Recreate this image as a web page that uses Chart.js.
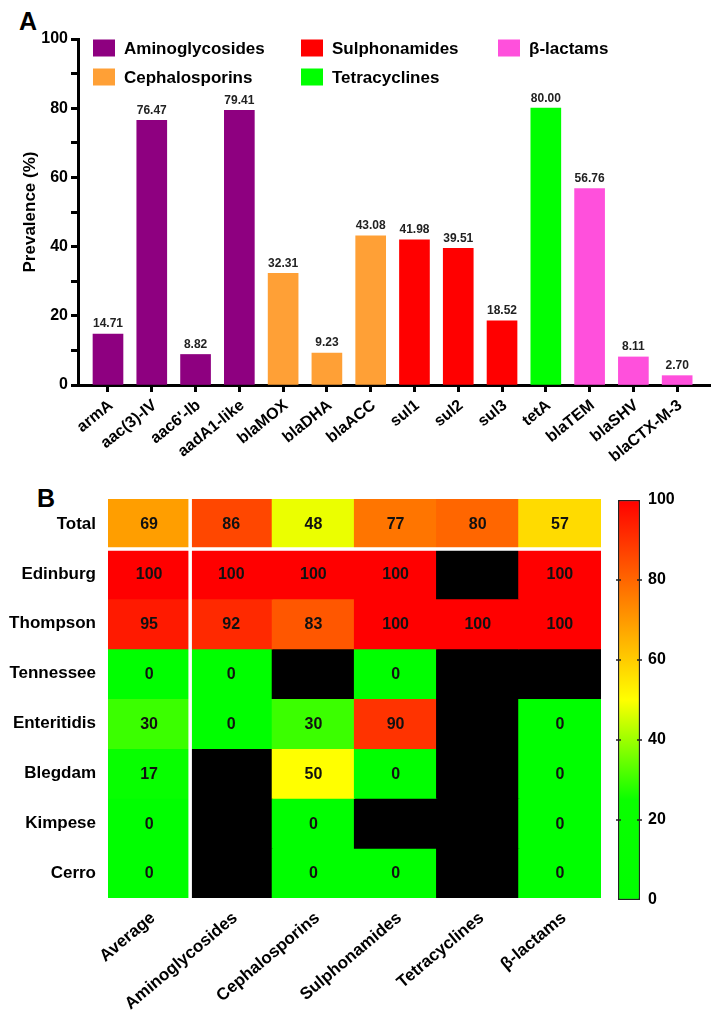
<!DOCTYPE html>
<html>
<head>
<meta charset="utf-8">
<script src="https://cdn.jsdelivr.net/npm/chart.js@4.4.1/dist/chart.umd.min.js"></script>
<style>
  body { margin:0; background:#fff; width:722px; height:1011px; position:relative; overflow:hidden; font-family:'Liberation Sans', Arial, sans-serif; }
  canvas { position:absolute; }
  .panel { position:absolute; font-weight:bold; font-size:25px; color:#000; line-height:1; }
</style>
</head>
<body>
<div class="panel" style="left:19px;top:9px">A</div>
<div class="panel" style="left:37px;top:486px">B</div>
<canvas id="cA" width="722" height="480" style="left:0;top:0;width:722px;height:480px"></canvas>
<canvas id="cB" width="612" height="531" style="left:0;top:480px;width:612px;height:531px"></canvas>
<canvas id="cC" width="122" height="440" style="left:600px;top:480px;width:122px;height:440px"></canvas>
<script>
// ---------- Panel A data ----------
const genes = ['armA', 'aac(3)-IV', "aac6'-lb", 'aadA1-like', 'blaMOX', 'blaDHA', 'blaACC', 'sul1', 'sul2', 'sul3', 'tetA', 'blaTEM', 'blaSHV', 'blaCTX-M-3'];
const prevalence = [14.71, 76.47, 8.82, 79.41, 32.31, 9.23, 43.08, 41.98, 39.51, 18.52, 80.00, 56.76, 8.11, 2.70];
const geneClass = [0, 0, 0, 0, 1, 1, 1, 2, 2, 2, 3, 4, 4, 4];
const classes = ['Aminoglycosides', 'Cephalosporins', 'Sulphonamides', 'Tetracyclines', 'β-lactams'];
const classColors = ['#8E0080', '#FFA036', '#FF0000', '#00FF00', '#FF50DC'];
const yTicksA = [0, 20, 40, 60, 80, 100];

// ---------- Panel B data ----------
const rows = ['Total', 'Edinburg', 'Thompson', 'Tennessee', 'Enteritidis', 'Blegdam', 'Kimpese', 'Cerro'];
const cols = ['Average', 'Aminoglycosides', 'Cephalosporins', 'Sulphonamides', 'Tetracyclines', 'β-lactams'];
const rowTotal       = [69, 86, 48, 77, 80, 57];
const rowEdinburg    = [100, 100, 100, 100, null, 100];
const rowThompson    = [95, 92, 83, 100, 100, 100];
const rowTennessee   = [0, 0, null, 0, null, null];
const rowEnteritidis = [30, 0, 30, 90, null, 0];
const rowBlegdam     = [17, null, 50, 0, null, 0];
const rowKimpese     = [0, null, 0, null, null, 0];
const rowCerro       = [0, null, 0, 0, null, 0];
const heatRows = [rowTotal, rowEdinburg, rowThompson, rowTennessee, rowEnteritidis, rowBlegdam, rowKimpese, rowCerro];
const colorbarTicks = [0, 20, 40, 60, 80, 100];
const colorStops = [[0, [0, 255, 0]], [25, [10, 255, 0]], [50, [255, 255, 0]], [100, [255, 0, 0]]];

function heatColor(v) {
  for (let i = 1; i < colorStops.length; i++) {
    const [v1, c1] = colorStops[i];
    const [v0, c0] = colorStops[i - 1];
    if (v <= v1) {
      const t = (v - v0) / (v1 - v0);
      const c = c0.map((x, k) => Math.round(x + (c1[k] - x) * t));
      return `rgb(${c[0]},${c[1]},${c[2]})`;
    }
  }
  const c = colorStops[colorStops.length - 1][1];
  return `rgb(${c[0]},${c[1]},${c[2]})`;
}

Chart.defaults.font.family = "'Liberation Sans', Arial, sans-serif";
Chart.defaults.color = '#000';
const FONT = "'Liberation Sans', Arial, sans-serif";

// ---------- Panel A ----------
const valueLabels = {
  id: 'valueLabels',
  afterDatasetsDraw(chart) {
    const ctx = chart.ctx;
    ctx.save();
    ctx.font = `bold 12px ${FONT}`;
    ctx.fillStyle = '#222';
    ctx.textAlign = 'center';
    ctx.textBaseline = 'bottom';
    chart.data.datasets.forEach((ds, i) => {
      chart.getDatasetMeta(i).data.forEach((el, j) => {
        ctx.fillText(ds.data[j].y.toFixed(2), el.x, el.y - 4);
      });
    });
    ctx.restore();
  }
};
const customLegend = {
  id: 'customLegend',
  afterDraw(chart) {
    const ctx = chart.ctx;
    const a = chart.chartArea;
    const colOff = [15, 223, 420];
    const rowOff = [9, 38];
    ctx.save();
    ctx.font = `bold 17px ${FONT}`;
    ctx.textAlign = 'left';
    ctx.textBaseline = 'middle';
    chart.data.datasets.forEach((ds, i) => {
      const x = a.left + colOff[Math.floor(i / 2)];
      const y = a.top + rowOff[i % 2];
      ctx.fillStyle = ds.backgroundColor;
      ctx.fillRect(x, y - 8.5, 22, 17);
      ctx.fillStyle = '#000';
      ctx.fillText(ds.label, x + 31, y + 1);
    });
    ctx.restore();
  }
};

new Chart(document.getElementById('cA'), {
  type: 'bar',
  data: {
    datasets: classes.map((c, k) => ({
      label: c,
      data: genes.map((g, i) => ({ x: i, y: prevalence[i], k: geneClass[i] })).filter(d => d.k === k),
      backgroundColor: classColors[k],
      barThickness: 30,
      grouped: false,
      borderWidth: 0
    }))
  },
  options: {
    responsive: false,
    devicePixelRatio: 1,
    animation: false,
    layout: { padding: { top: 39, right: 12, left: 0, bottom: 0 } },
    plugins: { legend: { display: false }, tooltip: { enabled: false } },
    scales: {
      x: {
        type: 'linear', min: -0.685, max: 13.75, offset: false,
        afterBuildTicks: s => { s.ticks = genes.map((g, i) => ({ value: i })); },
        ticks: { autoSkip: false, minRotation: 39, maxRotation: 39, padding: 4, labelOffset: 3,
          font: { size: 16, weight: 'bold' }, color: '#000', callback: v => genes[v] },
        grid: { offset: false, drawOnChartArea: false, drawTicks: true, tickLength: 7, tickWidth: 3, tickColor: '#000' },
        border: { color: '#000', width: 3 },
        afterFit: s => { s.height = 95; }
      },
      y: {
        min: 0, max: 100,
        ticks: { stepSize: 10, padding: 3, font: { size: 16, weight: 'bold' }, color: '#000',
          callback: v => yTicksA.includes(v) ? v : '' },
        grid: { drawOnChartArea: false, tickLength: 7, tickWidth: 3, tickColor: '#000' },
        border: { color: '#000', width: 3 },
        title: { display: true, text: 'Prevalence (%)', font: { size: 17, weight: 'bold' }, color: '#000', padding: { top: 20, bottom: 0 } },
        afterFit: s => { s.width = 78; }
      }
    }
  },
  plugins: [valueLabels, customLegend]
});

// ---------- Panel B heatmap ----------
const cellLabels = {
  id: 'cellLabels',
  afterDatasetsDraw(chart) {
    const ctx = chart.ctx;
    const a = chart.chartArea;
    const xs = chart.scales.x, ys = chart.scales.y;
    ctx.save();
    ctx.strokeStyle = '#fff';
    ctx.lineWidth = 3.5;
    const xSep = (xs.getPixelForValue(0) + xs.getPixelForValue(1)) / 2;
    const ySep = ys.getPixelForValue(0.5);
    ctx.beginPath();
    ctx.moveTo(xSep, a.top); ctx.lineTo(xSep, a.bottom);
    ctx.moveTo(a.left, ySep); ctx.lineTo(a.right, ySep);
    ctx.stroke();
    ctx.font = `bold 16px ${FONT}`;
    ctx.fillStyle = '#111';
    ctx.textAlign = 'center';
    ctx.textBaseline = 'middle';
    heatRows.forEach((vals, ri) => {
      chart.getDatasetMeta(ri).data.forEach((el, ci) => {
        if (vals[ci] !== null) ctx.fillText(String(vals[ci]), el.x, (el.y + el.base) / 2 + 1);
      });
    });
    ctx.restore();
  }
};

new Chart(document.getElementById('cB'), {
  type: 'bar',
  data: {
    labels: cols,
    datasets: heatRows.map((vals, ri) => ({
      label: rows[ri],
      data: vals.map(() => [ri - 0.5, ri + 0.5]),
      backgroundColor: vals.map(v => v === null ? '#000' : heatColor(v)),
      barPercentage: 1, categoryPercentage: 1, grouped: false, borderWidth: 0, inflateAmount: 0.6
    }))
  },
  options: {
    responsive: false,
    devicePixelRatio: 1,
    animation: false,
    layout: { padding: { top: 19, right: 11, left: 0, bottom: 0 } },
    plugins: { legend: { display: false }, tooltip: { enabled: false } },
    scales: {
      x: {
        type: 'category', offset: true,
        grid: { display: false }, border: { display: false },
        ticks: { autoSkip: false, minRotation: 40, maxRotation: 40, padding: 2, labelOffset: 4,
          font: { size: 17, weight: 'bold' }, color: '#000' },
        afterFit: s => { s.height = 113; }
      },
      y: {
        type: 'linear', reverse: true, min: -0.5, max: 7.5,
        afterBuildTicks: s => { s.ticks = rows.map((r, i) => ({ value: i })); },
        ticks: { autoSkip: false, padding: 4, font: { size: 17, weight: 'bold' }, color: '#000', callback: v => rows[v] },
        grid: { display: false }, border: { display: false },
        afterFit: s => { s.width = 108; }
      }
    }
  },
  plugins: [cellLabels]
});

// ---------- Colorbar ----------
const cbTicks = {
  id: 'cbTicks',
  afterDatasetsDraw(chart) {
    const ctx = chart.ctx;
    const a = chart.chartArea;
    const ys = chart.scales.y;
    ctx.save();
    ctx.strokeStyle = '#222';
    ctx.lineWidth = 1.5;
    ctx.beginPath();
    colorbarTicks.slice(1, -1).forEach(v => {
      const y = ys.getPixelForValue(v);
      ctx.moveTo(a.left - 2, y); ctx.lineTo(a.left + 3, y);
      ctx.moveTo(a.right - 3, y); ctx.lineTo(a.right + 2, y);
    });
    ctx.stroke();
    ctx.restore();
  }
};

new Chart(document.getElementById('cC'), {
  type: 'bar',
  data: {
    labels: [''],
    datasets: [{
      data: [[colorbarTicks[0], colorbarTicks[colorbarTicks.length - 1]]],
      backgroundColor: (context) => {
        const { ctx, chartArea, scales } = context.chart;
        if (!chartArea) return '#f00';
        const y0 = scales.y.getPixelForValue(0), y1 = scales.y.getPixelForValue(100);
        const g = ctx.createLinearGradient(0, y0, 0, y1);
        for (let v = 0; v <= 100; v += 5) g.addColorStop(v / 100, heatColor(v));
        return g;
      },
      borderColor: '#222', borderWidth: 1.5, borderSkipped: false,
      barPercentage: 1, categoryPercentage: 1
    }]
  },
  options: {
    responsive: false,
    devicePixelRatio: 1,
    animation: false,
    layout: { padding: { top: 20, left: 18, bottom: 20, right: 0 } },
    plugins: { legend: { display: false }, tooltip: { enabled: false } },
    scales: {
      x: { display: false },
      y: {
        position: 'right', min: 0, max: 100,
        afterBuildTicks: s => { s.ticks = colorbarTicks.map(v => ({ value: v })); },
        ticks: { padding: 0, font: { size: 16, weight: 'bold' }, color: '#000' },
        grid: { display: false }, border: { display: false },
        afterFit: s => { s.width = 82; }
      }
    }
  },
  plugins: [cbTicks]
});
</script>
</body>
</html>
